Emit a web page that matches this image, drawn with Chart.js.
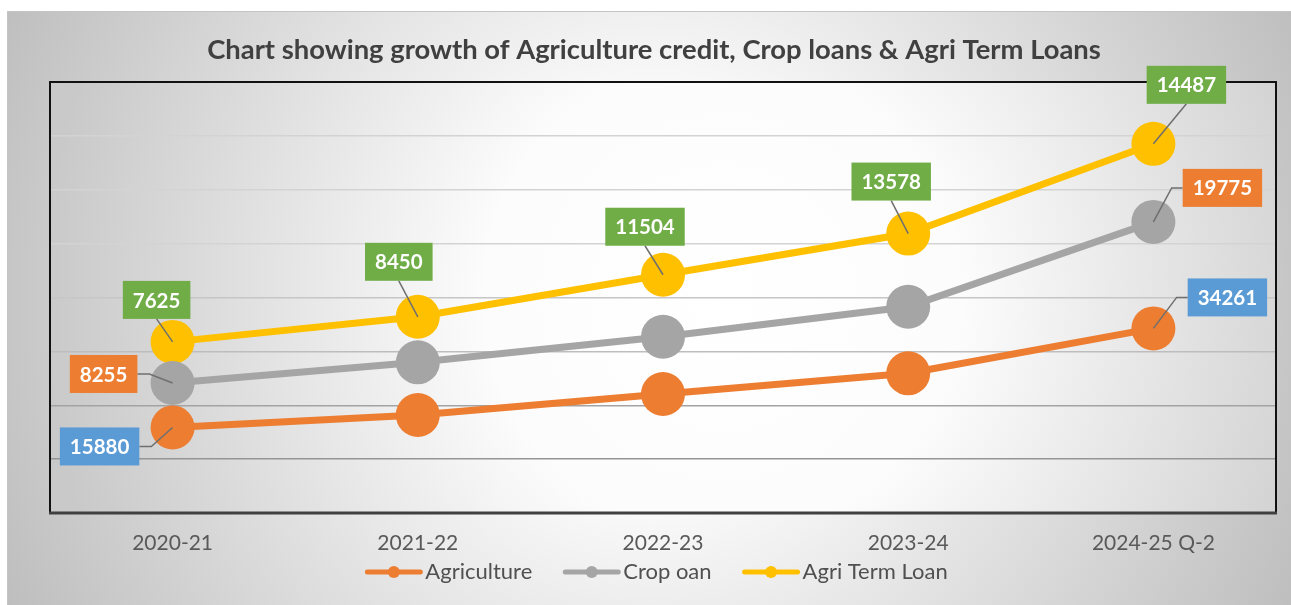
<!DOCTYPE html>
<html>
<head>
<meta charset="utf-8">
<title>Agriculture credit growth</title>
<script src="https://cdn.jsdelivr.net/npm/chart.js@4.4.1/dist/chart.umd.min.js"></script>
<style>
  html, body { margin: 0; padding: 0; background: #ffffff; overflow: hidden; }
  canvas { display: block; }
</style>
</head>
<body>
<canvas id="growth" width="1291" height="605"></canvas>
<script>
// ---- data ----
const years = ['2020-21', '2021-22', '2022-23', '2023-24', '2024-25 Q-2'];
const agriculture = [15880, 18190, 22090, 25930, 34261];
const cropLoan = [8255, 9780, 10630, 12360, 19775];
const agriTermLoan = [7625, 8450, 11504, 13578, 14487];
const seriesNames = ['Agriculture', 'Crop oan', 'Agri Term Loan'];
const chartTitle = 'Chart showing growth of Agriculture credit, Crop loans & Agri Term Loans';
const yMin = 0;
const yMax = 80000;
const yStep = 10000;

// ---- styling ----
const lineColors = ['#ED7D31', '#A5A5A5', '#FFC000'];
const tagColors = ['#5B9BD5', '#ED7D31', '#70AD47'];
const FONT = 'Lato, "Open Sans", sans-serif';

// where each value tag sits relative to its point (null = no tag)
const tagSpots = [
  [{ dx: -73, dy: 19, side: 'left' }, null, null, null, { dx: 74, dy: -31, side: 'right' }],
  [{ dx: -69, dy: -9, side: 'left' }, null, null, null, { dx: 69, dy: -34, side: 'right' }],
  [
    { dx: -16, dy: -42, side: 'up' },
    { dx: -19, dy: -55, side: 'up' },
    { dx: -18, dy: -48, side: 'up' },
    { dx: -17, dy: -52, side: 'up' },
    { dx: 33, dy: -59, side: 'up' }
  ]
];

// ---- backgrounds, title, frame ----
const backdrop = {
  id: 'backdrop',
  beforeDraw(chart) {
    const { ctx, width, height, chartArea: a } = chart;
    ctx.save();
    ctx.fillStyle = '#ffffff';
    ctx.fillRect(0, 0, width, height);

    // outer panel
    const ox = 7, oy = 11;
    const g1 = ctx.createRadialGradient(650, 300, 0, 650, 300, 720);
    g1.addColorStop(0, '#ffffff');
    g1.addColorStop(0.3, '#f8f8f8');
    g1.addColorStop(1, '#bdbdbd');
    ctx.fillStyle = g1;
    ctx.fillRect(ox, oy, width - ox, height - oy);
    ctx.strokeStyle = '#c4c4c4';
    ctx.lineWidth = 1;
    ctx.beginPath();
    ctx.moveTo(ox + 0.5, height);
    ctx.lineTo(ox + 0.5, oy + 0.5);
    ctx.lineTo(width, oy + 0.5);
    ctx.stroke();

    // plot panel
    const cx = (a.left + a.right) / 2 + 60, cy = (a.top + a.bottom) / 2;
    const g2 = ctx.createRadialGradient(cx, cy, 0, cx, cy, 680);
    g2.addColorStop(0, '#ffffff');
    g2.addColorStop(0.35, '#fcfcfc');
    g2.addColorStop(1, '#c9c9c9');
    ctx.fillStyle = g2;
    ctx.fillRect(a.left, a.top, a.right - a.left, a.bottom - a.top);

    // title
    ctx.fillStyle = '#404040';
    ctx.font = 'bold 27.4px ' + FONT;
    ctx.textAlign = 'center';
    ctx.textBaseline = 'alphabetic';
    ctx.fillText(chartTitle, 654, 59);
    ctx.restore();
  },
  beforeDatasetsDraw(chart) {
    const { ctx, chartArea: a } = chart;
    ctx.save();
    ctx.strokeStyle = '#111111';
    ctx.lineWidth = 2;
    ctx.beginPath();
    ctx.moveTo(a.left, a.bottom);
    ctx.lineTo(a.left, a.top);
    ctx.lineTo(a.right, a.top);
    ctx.lineTo(a.right, a.bottom);
    ctx.stroke();
    ctx.strokeStyle = '#404040';
    ctx.lineWidth = 3;
    ctx.beginPath();
    ctx.moveTo(a.left - 1, a.bottom);
    ctx.lineTo(a.right + 1, a.bottom);
    ctx.stroke();
    ctx.restore();
  },
  afterDraw(chart) {
    // legend row
    const { ctx } = chart;
    ctx.save();
    ctx.font = '22px ' + FONT;
    const sample = 57, gap = 3, between = 31;
    const widths = seriesNames.map(n => ctx.measureText(n).width);
    const total = widths.reduce((s, w) => s + sample + gap + w, 0) + between * (seriesNames.length - 1);
    let x = 656.5 - total / 2;
    const y = 572;
    seriesNames.forEach((name, i) => {
      ctx.strokeStyle = lineColors[i];
      ctx.lineWidth = 5;
      ctx.lineCap = 'round';
      ctx.beginPath();
      ctx.moveTo(x + 2, y);
      ctx.lineTo(x + sample - 2, y);
      ctx.stroke();
      ctx.fillStyle = lineColors[i];
      ctx.beginPath();
      ctx.arc(x + sample / 2, y, 6, 0, Math.PI * 2);
      ctx.fill();
      ctx.fillStyle = '#505050';
      ctx.textAlign = 'left';
      ctx.textBaseline = 'alphabetic';
      ctx.fillText(name, x + sample + gap, 579);
      x += sample + gap + widths[i] + between;
    });
    ctx.restore();
  }
};

// ---- value tags with leader lines ----
const valueTags = {
  id: 'valueTags',
  afterDatasetsDraw(chart) {
    const { ctx } = chart;
    chart.data.datasets.forEach((ds, di) => {
      const meta = chart.getDatasetMeta(di);
      meta.data.forEach((pt, i) => {
        const spot = tagSpots[di][i];
        if (!spot) return;
        const text = String(ds.data[i]);
        ctx.save();
        ctx.font = 'bold 20.5px ' + FONT;
        const w = ctx.measureText(text).width + 20, h = 38;
        const cx = pt.x + spot.dx, cy = pt.y + spot.dy;
        const l = cx - w / 2, r = cx + w / 2, t = cy - h / 2, b = cy + h / 2;
        ctx.strokeStyle = '#6f6f6f';
        ctx.lineWidth = 1.5;
        ctx.beginPath();
        ctx.moveTo(pt.x, pt.y);
        if (spot.side === 'up') {
          ctx.lineTo(cx, b);
        } else if (spot.side === 'left') {
          ctx.lineTo(r + 12, cy);
          ctx.lineTo(r, cy);
        } else {
          ctx.lineTo(l - 11, cy);
          ctx.lineTo(l, cy);
        }
        ctx.stroke();
        ctx.fillStyle = tagColors[di];
        ctx.fillRect(l, t, w, h);
        ctx.fillStyle = '#ffffff';
        ctx.textAlign = 'center';
        ctx.textBaseline = 'middle';
        ctx.fillText(text, cx, cy + 1);
        ctx.restore();
      });
    });
  }
};

function gridShade(v) {
  if (v <= 10000) return '#959595';
  if (v <= 20000) return '#a3a3a3';
  if (v <= 30000) return '#bdbdbd';
  if (v <= 40000) return '#c6c6c6';
  return '#d3d3d3';
}

function series(label, values, i) {
  return {
    label,
    data: values,
    borderColor: lineColors[i],
    backgroundColor: lineColors[i],
    borderWidth: 7,
    pointRadius: 22,
    pointHoverRadius: 22,
    pointBorderWidth: 0,
    pointBackgroundColor: lineColors[i],
    fill: false,
    tension: 0
  };
}

function build() {
  new Chart(document.getElementById('growth'), {
    type: 'line',
    data: {
      labels: years,
      datasets: [
        series(seriesNames[0], agriculture, 0),
        series(seriesNames[1], cropLoan, 1),
        series(seriesNames[2], agriTermLoan, 2)
      ]
    },
    options: {
      responsive: false,
      devicePixelRatio: 1,
      animation: false,
      events: [],
      layout: { autoPadding: false, padding: { left: 50, right: 15, top: 82, bottom: 0 } },
      plugins: { legend: { display: false }, title: { display: false }, tooltip: { enabled: false } },
      scales: {
        x: {
          offset: true,
          grid: { display: false, drawTicks: false },
          border: { display: false },
          ticks: { color: '#595959', font: { family: FONT, size: 21 }, padding: 18, maxRotation: 0, autoSkip: false },
          afterFit(s) { s.height = 92; }
        },
        y: {
          stacked: true,
          min: yMin,
          max: yMax,
          ticks: { display: false, stepSize: yStep },
          grid: { color: c => gridShade(c.tick.value), lineWidth: 1.5, drawTicks: false },
          border: { display: false },
          afterFit(s) { s.width = 0; }
        }
      }
    },
    plugins: [backdrop, valueTags]
  });
}

Promise.all([
  document.fonts.load('bold 20px Lato'),
  document.fonts.load('22px Lato')
]).then(build, build);
</script>
</body>
</html>
